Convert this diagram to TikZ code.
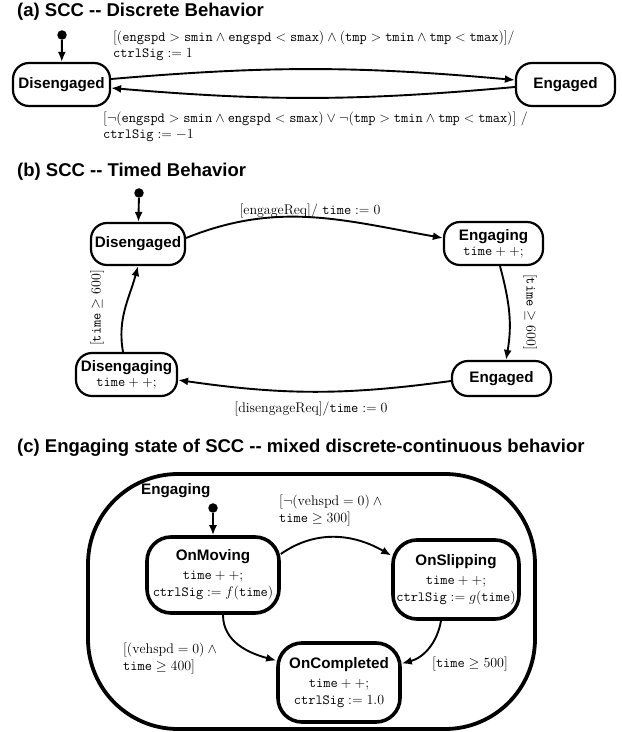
\RequirePackage{fix-cm}
\documentclass[tikz,border=0pt]{standalone}
\usepackage{fontspec}
\setsansfont{Liberation Sans}
\usepackage{tikz}
\usetikzlibrary{arrows.meta}
\newcommand{\tv}[1]{\mathtt{#1}}
\newcommand{\gsize}{\fontsize{14}{15.5}\selectfont}
\tikzset{
  titletext/.style={
    anchor=base west,
    inner sep=0pt,
    font=\sffamily\bfseries\fontsize{18.5}{20}\selectfont
  },
  statebox/.style={
    rounded corners=16pt,
    draw=black,
    fill=white,
    line width=2.2pt,
    inner sep=2pt,
    align=center,
    font=\sffamily\bfseries\fontsize{15.2}{17}\selectfont
  },
  substate/.style={
    statebox,
    rounded corners=24pt,
    line width=3.6pt
  },
  superstate/.style={
    rounded corners=90pt,
    draw=black,
    line width=3.8pt
  },
  statename/.style={
    inner sep=0pt,
    font=\sffamily\bfseries\fontsize{15.2}{17}\selectfont
  },
  guard/.style={
    inner sep=0pt,
    align=left,
    font=\gsize
  },
  initdot/.style={
    circle,
    fill=black,
    inner sep=0pt,
    minimum size=9.5pt
  },
  trans/.style={
    -{Latex[length=10pt,width=8pt]},
    line width=1.9pt,
    draw=black
  }
}

\begin{document}
\begin{tikzpicture}[x=1pt,y=1pt]
\useasboundingbox (0,0) rectangle (622,732);

% (a)
\node[titletext] (titleA) at (17,715) {(a) SCC -{}- Discrete Behavior};

\node[initdot] (initA) at (62,697) {};
\node[statebox, minimum width=97pt, minimum height=43pt] (disA) at (61.5,647.5) {Disengaged};
\node[statebox, minimum width=99pt, minimum height=43pt] (engA) at (565.5,647.5) {Engaged};

\draw[trans] (initA) -- (disA);
\draw[trans] ([yshift=5.5pt]disA.east) to[bend left=5] ([yshift=4.5pt]engA.west);
\draw[trans] ([yshift=-2.5pt]engA.west) to[bend left=5] ([yshift=-3.5pt]disA.east);

\node[guard, anchor=north west] (gA1) at (113,701)
  {$[(\tv{engspd} > \tv{smin} \land \tv{engspd} < \tv{smax}) \land (\tv{tmp} > \tv{tmin} \land \tv{tmp} < \tv{tmax})]/$\\[0.5pt]
   $\tv{ctrlSig} := 1$};
\node[guard, anchor=north west] (gA2) at (103,620)
  {$[\neg(\tv{engspd} > \tv{smin} \land \tv{engspd} < \tv{smax}) \lor \neg(\tv{tmp} > \tv{tmin} \land \tv{tmp} < \tv{tmax})]\ /$\\[0.5pt]
   $\tv{ctrlSig} := -1$};

% (b)
\node[titletext] (titleB) at (17,555) {(b) SCC -{}- Timed Behavior};

\node[initdot] (initB) at (139,539) {};
\node[statebox, minimum width=94pt, minimum height=42pt] (disB) at (138,488) {Disengaged};
\node[statebox, minimum width=99pt, minimum height=43pt] (engingB) at (493.5,488.5) {Engaging\\[-2pt] {\gsize $\tv{time}++;$}};
\node[statebox, minimum width=99pt, minimum height=35pt] (engedB) at (501.5,353.5) {Engaged};
\node[statebox, minimum width=101pt, minimum height=43pt] (disingB) at (126.5,357.5) {Disengaging\\[-2pt] {\gsize $\tv{time}++;$}};

\draw[trans] (initB) -- (disB);
\draw[trans] ([yshift=6pt]disB.east) to[out=22,in=170] ([yshift=5.5pt]engingB.west);
\draw[trans] ([xshift=6.5pt]engingB.south) to[out=-75,in=80] ([xshift=4.5pt]engedB.north);
\draw[trans] ([yshift=-2.5pt]engedB.west) to[bend left=8] ([yshift=-5.5pt]disingB.east);
\draw[trans] ([xshift=-3.5pt]disingB.north) to[out=100,in=-105] (disB.south);

\node[guard, anchor=base] (gB1) at (310,517) {$[\mathrm{engageReq}]/\ \tv{time} := 0$};
\node[guard, anchor=base] (gB2) at (311,319) {$[\mathrm{disengageReq}]/\tv{time} := 0$};
\node[guard, rotate=90] (gB3) at (97,424) {$[\tv{time} \geq 600]$};
\node[guard, rotate=-90] (gB4) at (530,420) {$[\tv{time} \geq 600]$};

% (c)
\node[titletext] (titleC) at (17,279) {(c) Engaging state of SCC -{}- mixed discrete-continuous behavior};

\node[superstate, minimum width=447pt, minimum height=255pt] (engC) at (311.5,130.5) {};
\node[statename, anchor=base west] (engCname) at (141,237) {Engaging};

\node[initdot] (initC) at (213,224) {};
\node[substate, minimum width=132pt, minimum height=76pt] (onMov) at (213,157)
  {OnMoving\\[2pt] {\gsize $\tv{time}++;$}\\ {\gsize $\tv{ctrlSig} := f(\tv{time})$}};
\node[substate, minimum width=126pt, minimum height=79pt] (onSlip) at (456,152.5)
  {OnSlipping\\[2pt] {\gsize $\tv{time}++;$}\\ {\gsize $\tv{ctrlSig} := g(\tv{time})$}};
\node[substate, minimum width=122pt, minimum height=79pt] (onComp) at (339,49.5)
  {OnCompleted\\[2pt] {\gsize $\tv{time}++;$}\\ {\gsize $\tv{ctrlSig} := 1.0$}};

\draw[trans] (initC) -- (onMov);
\draw[trans] ([yshift=21pt]onMov.east) to[out=35,in=150] ([yshift=24pt]onSlip.west);
\draw[trans] ([xshift=10pt]onMov.south) to[out=-90,in=165] ([yshift=22pt]onComp.west);
\draw[trans] ([xshift=-15pt]onSlip.south) to[out=-100,in=15] ([yshift=19pt]onComp.east);

\node[guard, anchor=north west] (gC1) at (279,237) {$[\neg(\mathrm{vehspd} = 0) \land{}$\\[1.5pt] $\tv{time} \geq 300]$};
\node[guard, anchor=north west] (gC2) at (123,89) {$[(\mathrm{vehspd} = 0) \land{}$\\[1.5pt] $\tv{time} \geq 400]$};
\node[guard, anchor=base west] (gC3) at (432,64) {$[\tv{time} \geq 500]$};

\end{tikzpicture}
\end{document}
